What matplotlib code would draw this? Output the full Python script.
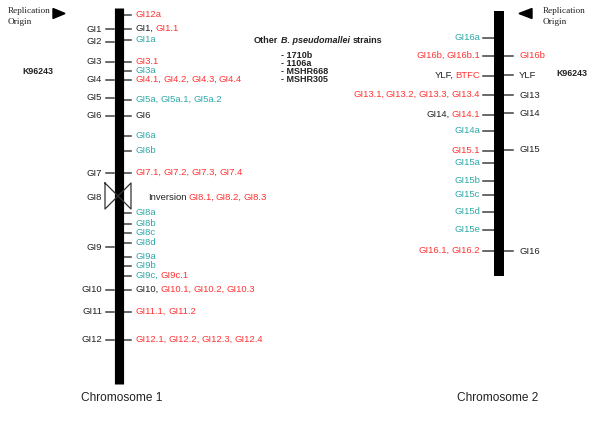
import matplotlib
matplotlib.use("Agg")
import matplotlib.pyplot as plt
from matplotlib.offsetbox import TextArea, HPacker, AnnotationBbox

RED = '#ff3333'
TEAL = '#2fa8a8'
BLK = '#222222'
TICK = '#404040'

# chromosome 1 : positions along the bar (pixel rows of the reference)
chr1_left = [("GI1", 29), ("GI2", 42), ("GI3", 62), ("GI4", 80), ("GI5", 98),
             ("GI6", 116), ("GI7", 173), ("GI9", 247), ("GI10", 290),
             ("GI11", 312), ("GI12", 340)]
chr1_right = [
    (15, [("GI12a", RED)]),
    (29, [("GI1,", BLK), ("GI1.1", RED)]),
    (40, [("GI1a", TEAL)]),
    (62, [("GI3.1", RED)]),
    (71, [("GI3a", TEAL)]),
    (80, [("GI4.1,", RED), ("GI4.2,", RED), ("GI4.3,", RED), ("GI4.4", RED)]),
    (100, [("GI5a,", TEAL), ("GI5a.1,", TEAL), ("GI5a.2", TEAL)]),
    (116, [("GI6", BLK)]),
    (136, [("GI6a", TEAL)]),
    (151, [("GI6b", TEAL)]),
    (173, [("GI7.1,", RED), ("GI7.2,", RED), ("GI7.3,", RED), ("GI7.4", RED)]),
    (213, [("GI8a", TEAL)]),
    (224, [("GI8b", TEAL)]),
    (233, [("GI8c", TEAL)]),
    (243, [("GI8d", TEAL)]),
    (257, [("GI9a", TEAL)]),
    (266, [("GI9b", TEAL)]),
    (276, [("GI9c,", TEAL), ("GI9c.1", RED)]),
    (290, [("GI10,", BLK), ("GI10.1,", RED), ("GI10.2,", RED), ("GI10.3", RED)]),
    (312, [("GI11.1,", RED), ("GI11.2", RED)]),
    (340, [("GI12.1,", RED), ("GI12.2,", RED), ("GI12.3,", RED), ("GI12.4", RED)]),
]
inversion_pos = 198
inversion_label = [("Inversion", BLK), ("GI8.1,", RED), ("GI8.2,", RED), ("GI8.3", RED)]

# chromosome 2
chr2_left = [
    (38, [("GI16a", TEAL)]),
    (56, [("GI16b,", RED), ("GI16b.1", RED)]),
    (76, [("YLF,", BLK), ("BTFC", RED)]),
    (95, [("GI13.1,", RED), ("GI13.2,", RED), ("GI13.3,", RED), ("GI13.4", RED)]),
    (115, [("GI14,", BLK), ("GI14.1", RED)]),
    (131, [("GI14a", TEAL)]),
    (151, [("GI15.1", RED)]),
    (163, [("GI15a", TEAL)]),
    (181, [("GI15b", TEAL)]),
    (195, [("GI15c", TEAL)]),
    (212, [("GI15d", TEAL)]),
    (230, [("GI15e", TEAL)]),
    (251, [("GI16.1,", RED), ("GI16.2", RED)]),
]
chr2_right = [("GI16b", 56, RED), ("YLF", 75, BLK), ("GI13", 95, BLK),
              ("GI14", 113, BLK), ("GI15", 150, BLK), ("GI16", 251, BLK)]

strains = ["- 1710b", "- 1106a", "- MSHR668", "- MSHR305"]

FS = 6.8
SANS = 'Liberation Sans'
SERIF = 'Liberation Serif'

fig = plt.figure(figsize=(6, 4.23), dpi=100)
ax = fig.add_axes([0, 0, 1, 1])
ax.set_xlim(0, 600)
ax.set_ylim(423, 0)
ax.axis('off')


def multi(x, y, parts, align, sep=1.2, **kw):
    boxes = []
    for p in parts:
        t, c = p[0], p[1]
        props = dict(color=c, fontsize=FS, family=SANS)
        props.update(kw)
        if len(p) > 2:
            props.update(p[2])
        boxes.append(TextArea(t, textprops=props))
    pack = HPacker(children=boxes, align="baseline", pad=0, sep=sep)
    ab = AnnotationBbox(pack, (x, y), xycoords='data', box_alignment=(align, 0.45),
                        frameon=False, pad=0)
    ax.add_artist(ab)


# chromosome 1
ax.plot([118.5, 118.5], [8, 384], color='black', lw=6.6, solid_capstyle='butt', zorder=3)
for lab, y in chr1_left:
    ax.plot([106, 114], [y, y], color=TICK, lw=1.1)
    ax.text(102, y, lab, ha='right', va='center', fontsize=FS, family=SANS, color=BLK)
ax.text(102, inversion_pos, "GI8", ha='right', va='center', fontsize=FS, family=SANS, color=BLK)
for y, parts in chr1_right:
    ax.plot([123, 131], [y, y], color=TICK, lw=1.1)
    multi(136, y, parts, 0)
# inversion bow-tie
ax.plot([105, 131, 131, 105, 105], [183, 209, 183, 209, 183], color='#333333', lw=0.9, zorder=4)
multi(148, inversion_pos, inversion_label, 0)

ax.text(122, 398, "Chromosome 1", ha='center', va='center', fontsize=8.6, family=SANS, color=BLK)
ax.text(38, 71, "K96243", ha='center', va='center', fontsize=6.4, family=SANS,
        weight='bold', color=BLK)
ax.fill([53, 65, 53], [8.5, 13.5, 18.5], color='black')
ax.text(8, 11, "Replication", ha='left', va='center', fontsize=6.7, family=SERIF, color=BLK)
ax.text(8, 22, "Origin", ha='left', va='center', fontsize=6.7, family=SERIF, color=BLK)

# chromosome 2
ax.plot([499, 499], [11, 276], color='black', lw=7.2, solid_capstyle='butt', zorder=3)
for y, parts in chr2_left:
    ax.plot([483, 494], [y, y], color=TICK, lw=1.1)
    multi(480, y, parts, 1)
for lab, y, c in chr2_right:
    ax.plot([504, 513], [y, y], color=TICK, lw=1.1)
    ax.text(519, y, lab, ha='left', va='center', fontsize=FS, family=SANS, color=c)

ax.text(498, 398, "Chromosome 2", ha='center', va='center', fontsize=8.6, family=SANS, color=BLK)
ax.text(572, 73, "K96243", ha='center', va='center', fontsize=6.4, family=SANS,
        weight='bold', color=BLK)
ax.fill([532, 519, 532], [8.5, 13.5, 18.5], color='black')
ax.text(543, 11, "Replication", ha='left', va='center', fontsize=6.7, family=SERIF, color=BLK)
ax.text(543, 22, "Origin", ha='left', va='center', fontsize=6.7, family=SERIF, color=BLK)

# other strains note
multi(254, 41, [("Other", BLK), ("B. pseudomallei", BLK, dict(style='italic')), ("strains", BLK)],
      0, sep=1.8, weight='bold', fontsize=6.5)
for i, s in enumerate(strains):
    ax.text(281, 56 + 8 * i, s, ha='left', va='center', fontsize=6.5, family=SANS,
            weight='bold', color=BLK)

fig.savefig('out.png', dpi=100, facecolor='white')
